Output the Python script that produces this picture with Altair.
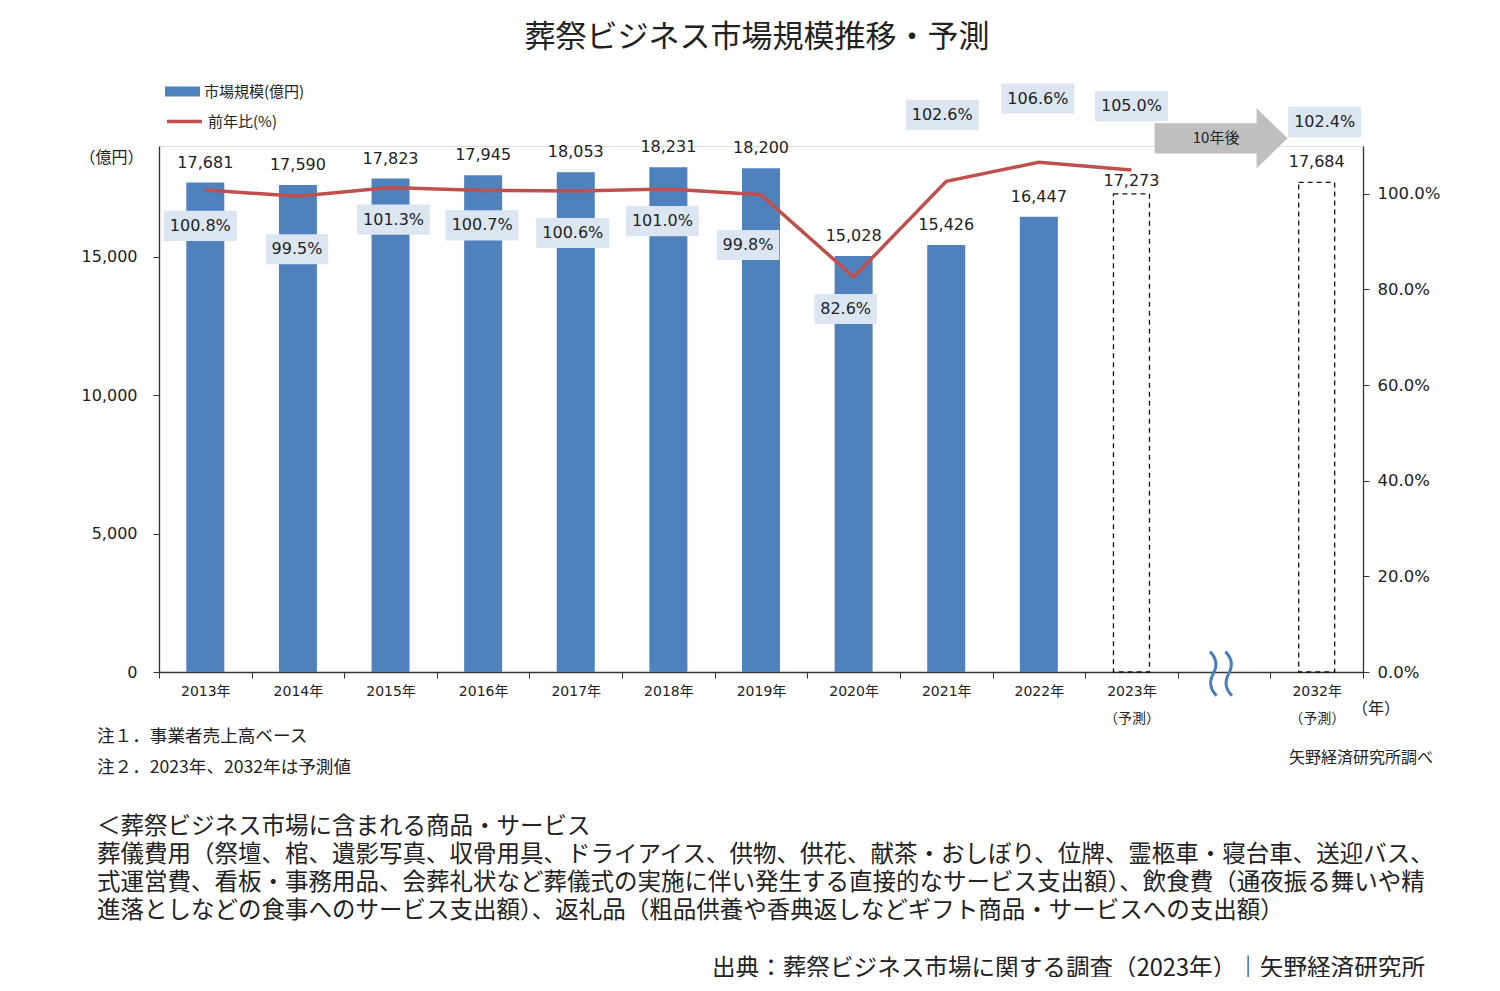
import altair as alt
import pandas as pd

# ---------------- data ----------------
years = ["2013", "2014", "2015", "2016", "2017", "2018", "2019", "2020", "2021", "2022", "2023", "gap", "2032"]
market_years = ["2013", "2014", "2015", "2016", "2017", "2018", "2019", "2020", "2021", "2022", "2023", "2032"]
market_size = [17681, 17590, 17823, 17945, 18053, 18231, 18200, 15028, 15426, 16447, 17273, 17684]
forecast = [False, False, False, False, False, False, False, False, False, False, True, True]
yoy = [100.8, 99.5, 101.3, 100.7, 100.6, 101.0, 99.8, 82.6, 102.6, 106.6, 105.0, 102.4]
on_line = [True] * 11 + [False]

# label placement: yoy labels in percentage points from the line value (and a small
# horizontal nudge in pixels), value labels in pixels above the bar top
yoy_label_shift = [-7.5, -11.1, -6.7, -7.3, -8.8, -6.7, -10.5, -6.7, 13.9, 13.3, 13.3, 12.6]
yoy_label_nudge = [-5, -1, 3, -1, -3, -6, -13, -8, -4, -1, 0, 8]
value_label_gap = [20, 20, 20, 20, 20, 20, 20, 20, 20, 20, 13, 20]

title_text = "葬祭ビジネス市場規模推移・予測"
notes = ["注１．事業者売上高ベース", "注２．2023年、2032年は予測値"]
source_small = "矢野経済研究所調べ"
body_lines = [
    "＜葬祭ビジネス市場に含まれる商品・サービス",
    "葬儀費用（祭壇、棺、遺影写真、収骨用具、ドライアイス、供物、供花、献茶・おしぼり、位牌、霊柩車・寝台車、送迎バス、",
    "式運営費、看板・事務用品、会葬礼状など葬儀式の実施に伴い発生する直接的なサービス支出額）、飲食費（通夜振る舞いや精",
    "進落としなどの食事へのサービス支出額）、返礼品（粗品供養や香典返しなどギフト商品・サービスへの支出額）",
]
source_line = "出典：葬祭ビジネス市場に関する調査（2023年）｜矢野経済研究所"

W, H = 1204, 526
LEFT_MAX, RIGHT_MAX = 19000, 110
HALF_BAND = W / len(years) / 2

df = pd.DataFrame({
    "year": market_years,
    "size": market_size,
    "forecast": forecast,
    "yoy": yoy,
    "on_line": on_line,
    "shift": yoy_label_shift,
    "nudge": yoy_label_nudge,
    "gap_px": value_label_gap,
})
df["size_label"] = df["size"].map(lambda v: f"{v:,}")
df["yoy_label"] = df["yoy"].map(lambda v: f"{v:.1f}%")
df["vy"] = df["size"] + df["gap_px"] * LEFT_MAX / H
df["ly"] = df["yoy"] + df["shift"]
df["ly0"] = df["ly"] - 3.15
df["ly1"] = df["ly"] + 3.15
df["xo"] = df["nudge"] + HALF_BAND
df["bw"] = df["yoy_label"].str.len() * 10.5 + 10
df["series"] = "市場規模(億円)"
df["series2"] = "前年比(%)"

NUM = "DejaVu Sans, Noto Sans CJK JP"
JP = "Noto Sans CJK JP"

base = alt.Chart(df)
one = alt.Chart(pd.DataFrame({"k": [0]}))

xscale = alt.Scale(domain=years, paddingInner=0, paddingOuter=0)

x_enc = alt.X(
    "year:N",
    scale=xscale,
    axis=alt.Axis(
        title=None,
        labelExpr="(datum.value == null || datum.value == 'gap') ? '' : ((datum.value == '2023' || datum.value == '2032') ? [datum.value + '年', '（予測）'] : datum.value + '年')",
        labelAngle=0,
        labelFont=NUM,
        labelFontSize=14,
        labelColor="#222",
        labelLineHeight=27,
        labelPadding=6,
        labelBaseline="top",
        tickBand="extent",
        tickSize=6,
        tickColor="#333",
        domainColor="#333",
        domainWidth=1.3,
    ),
)
x_plain = alt.X("year:N", scale=xscale)

yl = alt.Scale(domain=[0, LEFT_MAX], nice=False, zero=True)
yr = alt.Scale(domain=[0, RIGHT_MAX], nice=False, zero=True)

bars = base.transform_filter("!datum.forecast").mark_bar(size=38).encode(
    x=x_enc,
    y=alt.Y(
        "size:Q",
        scale=yl,
        axis=alt.Axis(
            orient="left",
            values=[0, 5000, 10000, 15000],
            format=",.0f",
            grid=False,
            title="（億円）",
            titleAngle=0,
            titleX=-48,
            titleY=11,
            titleAlign="center",
            titleBaseline="middle",
            titleFont=JP,
            titleFontSize=16,
            titleFontWeight="normal",
            titleColor="#222",
            labelFont=NUM,
            labelFontSize=16,
            labelColor="#222",
            labelPadding=16,
            tickSize=6,
            tickColor="#333",
            domainColor="#333",
            domainWidth=1.3,
        ),
    ),
    fill=alt.Fill(
        "series:N",
        scale=alt.Scale(domain=["市場規模(億円)"], range=["#4f81bd"]),
        legend=alt.Legend(
            title=None,
            orient="none",
            legendX=6,
            legendY=-72,
            symbolType="M-1,-0.28L1,-0.28L1,0.28L-1,0.28Z",
            symbolSize=1225,
            symbolStrokeWidth=0,
            labelFont=JP,
            labelFontSize=15,
            labelColor="#222",
            labelOffset=4,
        ),
    ),
)

dashed = base.transform_filter("datum.forecast").mark_bar(
    size=36, fill="transparent", stroke="#111", strokeWidth=1.3, strokeDash=[5, 4]
).encode(x=x_plain, y=alt.Y("size:Q", scale=yl, axis=None))

value_text = base.mark_text(font=NUM, fontSize=16, color="#222", baseline="middle").encode(
    x=x_plain,
    y=alt.Y("vy:Q", scale=yl, axis=None),
    text="size_label:N",
)

wave = one.mark_point(
    shape="M-0.55,-1 Q-0.1,-0.55 -0.4,0 Q-0.7,0.55 -0.25,1 M0.15,-1 Q0.6,-0.55 0.3,0 Q0,0.55 0.45,1",
    size=1936, filled=False, stroke="#4a7ebb", strokeWidth=3, opacity=1, xOffset=-2,
).encode(x=alt.X(datum="gap", scale=xscale), y=alt.Y(datum=-60, scale=yl, axis=None))

line = base.transform_filter("datum.on_line").mark_line(strokeWidth=3.5).encode(
    x=x_plain,
    y=alt.Y(
        "yoy:Q",
        scale=yr,
        axis=alt.Axis(
            orient="right",
            values=[0, 20, 40, 60, 80, 100],
            labelExpr="format(datum.value, '.1f') + '%'",
            grid=False,
            title=None,
            labelFont=NUM,
            labelFontSize=16.5,
            labelColor="#222",
            labelPadding=8,
            tickSize=6,
            tickColor="#333",
            domainColor="#333",
            domainWidth=1.3,
        ),
    ),
    stroke=alt.Stroke(
        "series2:N",
        scale=alt.Scale(domain=["前年比(%)"], range=["#c0504d"]),
        legend=alt.Legend(
            title=None,
            orient="none",
            legendX=6,
            legendY=-44,
            symbolType="stroke",
            symbolSize=1225,
            symbolStrokeWidth=3.5,
            labelFont=JP,
            labelFontSize=15,
            labelColor="#222",
            labelOffset=4,
        ),
    ),
)

boxes = base.mark_bar(color="#dce6f2").encode(
    x=x_plain,
    xOffset=alt.XOffset("xo:Q", scale=None),
    y=alt.Y("ly0:Q", scale=yr, axis=None),
    y2="ly1:Q",
    size=alt.Size("bw:Q", scale=None, legend=None),
)

yoy_text = base.mark_text(font=NUM, fontSize=16, color="#222", baseline="middle").encode(
    x=x_plain,
    xOffset=alt.XOffset("xo:Q", scale=None),
    y=alt.Y("ly:Q", scale=yr, axis=None),
    text="yoy_label:N",
)

arrow = one.mark_point(
    shape="M-1,-0.226L0.534,-0.226L0.534,-0.451L1,0L0.534,0.451L0.534,0.226L-1,0.226Z",
    size=17689, filled=True, fill="#bfbfbf", strokeWidth=0, opacity=1, xOffset=-3,
).encode(x=alt.X(datum="gap", scale=xscale), y=alt.Y(datum=111.6, scale=yr, axis=None))

arrow_text = one.mark_text(text="10年後", font=JP, fontSize=15, color="#222", dx=-8).encode(
    x=alt.X(datum="gap", scale=xscale),
    y=alt.Y(datum=111.6, scale=yr, axis=None),
)


def ann(text, px, py, size, align="left", font=JP, color="#222"):
    return alt.Chart(pd.DataFrame({"t": [text]})).mark_text(
        font=font, fontSize=size, align=align, baseline="middle", color=color
    ).encode(x=alt.value(px - 159), y=alt.value(py - 146), text="t:N")


anns = [ann(title_text, 757, 38, 31, align="center")]
anns.append(ann("（年）", 1352, 709, 16))
anns.append(ann(notes[0], 97, 737, 17.6))
anns.append(ann(notes[1], 97, 768, 17.6))
anns.append(ann(source_small, 1433, 758, 16, align="right"))
for i, t in enumerate(body_lines):
    anns.append(ann(t, 97, 827 + 28 * i, 23.5))
anns.append(ann(source_line, 1425, 969, 23.6, align="right"))

chart = alt.layer(
    bars, dashed, value_text, wave, arrow, arrow_text, line, boxes, yoy_text, *anns
).resolve_scale(
    y="independent", fill="independent", stroke="independent"
).properties(
    width=W,
    height=H,
    autosize=alt.AutoSizeParams(type="none"),
    padding={"left": 151, "top": 138, "right": 121, "bottom": 305},
).configure_view(strokeWidth=0).configure(background="white")

chart.save("out.html", embed_options={"renderer": "svg", "actions": False})
